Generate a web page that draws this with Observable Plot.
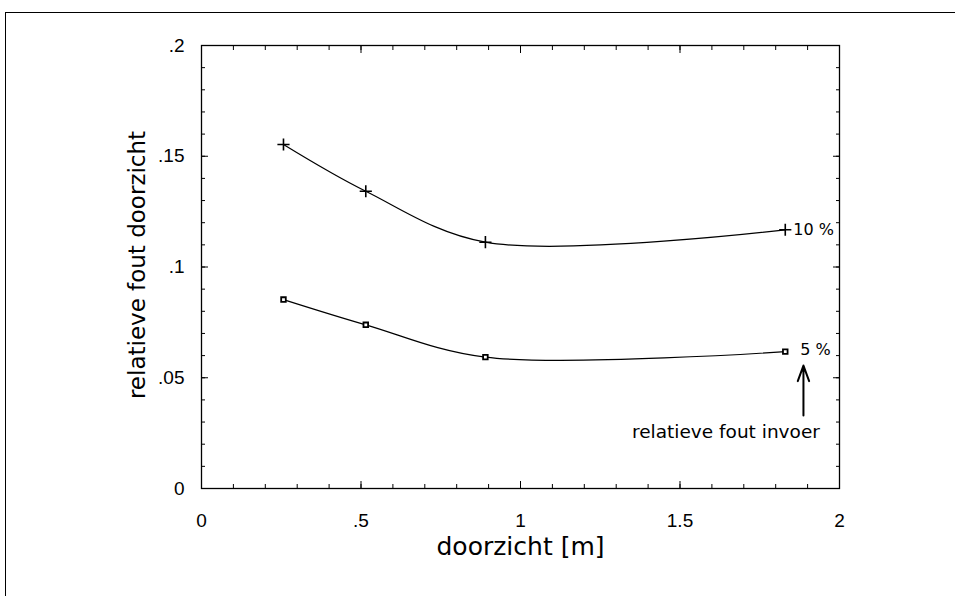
<!DOCTYPE html>
<html>
<head>
<meta charset="utf-8">
<script src="https://cdn.jsdelivr.net/npm/d3@7"></script>
<script src="https://cdn.jsdelivr.net/npm/@observablehq/plot@0.6"></script>
<style>
  html, body { margin: 0; padding: 0; background: #fff; }
  #wrap { position: relative; width: 955px; height: 596px; overflow: hidden; }
  #border { position: absolute; left: 5px; top: 12px; right: 0; bottom: 0;
            border-top: 1px solid #000; border-left: 1.5px solid #000; }
  #chart { position: absolute; left: 0; top: 0; }
</style>
</head>
<body>
<div id="wrap"><div id="border"></div><div id="chart"></div></div>
<script>
// ---- data ----
const doorzicht = [0.257, 0.515, 0.89, 1.83];          // x, m
const fout10 = [0.1553, 0.1342, 0.1112, 0.1168];       // 10 % input error
const fout5  = [0.0853, 0.0739, 0.0593, 0.0618];       // 5 % input error
const seriesLabels = ["10 %", "5 %"];

const xMajorTicks = [0, 0.5, 1, 1.5, 2];
const xMinorTicks = d3.range(0, 21).map(i => i / 10);
const yMajorTicks = [0, 0.05, 0.1, 0.15, 0.2];
const yMinorTicks = d3.range(0, 21).map(i => i / 100);

const xLabel = "doorzicht [m]";
const yLabel = "relatieve fout doorzicht";
const annotText = "relatieve fout invoer";
const annotArrow = [{x: 1.887, y1: 0.033, y2: 0.0555}];
const annotLabel = [{x: 1.644, y: 0.0253}];

// ---- build tables ----
const s10 = doorzicht.map((x, i) => ({x, y: fout10[i]}));
const s5  = doorzicht.map((x, i) => ({x, y: fout5[i]}));
const end10 = [{x: doorzicht[3], y: fout10[3], t: seriesLabels[0]}];
const end5  = [{x: doorzicht[3], y: fout5[3],  t: seriesLabels[1]}];
const fmt = d => d === 0 ? "0" : String(d).replace(/^0\./, ".");

const tickFont = "'Liberation Sans Narrow', 'Liberation Sans', sans-serif";
const labelFont = "'DejaVu Sans', sans-serif";

const chart = Plot.plot({
  width: 955,
  height: 596,
  marginLeft: 201,
  marginRight: 116,
  marginTop: 45,
  marginBottom: 108,
  style: {fontFamily: tickFont, fontSize: "19px", background: "transparent", color: "#000"},
  x: {domain: [0, 2]},
  y: {domain: [0, 0.2]},
  marks: [
    Plot.frame({stroke: "#000", strokeWidth: 1.3}),
    // inward tick marks on all four sides
    Plot.axisX(xMinorTicks, {anchor: "bottom", tickSize: -4, tickFormat: () => "", label: null}),
    Plot.axisX(xMinorTicks, {anchor: "top", tickSize: -4, tickFormat: () => "", label: null}),
    Plot.axisX(xMajorTicks, {anchor: "bottom", tickSize: -7, tickFormat: () => "", label: null}),
    Plot.axisX(xMajorTicks, {anchor: "top", tickSize: -7, tickFormat: () => "", label: null}),
    Plot.axisY(yMinorTicks, {anchor: "left", tickSize: -4, tickFormat: () => "", label: null}),
    Plot.axisY(yMinorTicks, {anchor: "right", tickSize: -4, tickFormat: () => "", label: null}),
    Plot.axisY(yMajorTicks, {anchor: "left", tickSize: -7, tickFormat: () => "", label: null}),
    Plot.axisY(yMajorTicks, {anchor: "right", tickSize: -7, tickFormat: () => "", label: null}),
    // tick labels
    Plot.axisX(xMajorTicks, {anchor: "bottom", tickSize: 0, tickPadding: 25, tickFormat: fmt, label: null, fontSize: 19}),
    Plot.axisY(yMajorTicks, {anchor: "left", tickSize: 0, tickPadding: 17, tickFormat: fmt, label: null, fontSize: 19}),
    // axis titles
    Plot.text([xLabel], {frameAnchor: "bottom", text: d => d, dy: 58, lineAnchor: "middle", textAnchor: "middle", fontFamily: labelFont, fontSize: 25, fill: "#000"}),
    Plot.text([yLabel], {frameAnchor: "left", text: d => d, rotate: -90, dx: -64, dy: -2, textAnchor: "middle", lineAnchor: "middle", fontFamily: labelFont, fontSize: 23, fill: "#000"}),
    // curves
    Plot.line(s10, {x: "x", y: "y", curve: "catmull-rom", stroke: "#000", strokeWidth: 1.2}),
    Plot.line(s5, {x: "x", y: "y", curve: "catmull-rom", stroke: "#000", strokeWidth: 1.2}),
    Plot.dot(s10, {x: "x", y: "y", symbol: "plus", r: 4, stroke: "#000", strokeWidth: 1.6}),
    Plot.dot(s5, {x: "x", y: "y", symbol: "square", r: 2.6, stroke: "#000", fill: "#fff", strokeWidth: 1.8}),
    Plot.text(end10, {x: "x", y: "y", text: "t", dx: 8, textAnchor: "start", fontFamily: labelFont, fontSize: 16, fill: "#000"}),
    Plot.text(end5, {x: "x", y: "y", text: "t", dx: 15, dy: -2, textAnchor: "start", fontFamily: labelFont, fontSize: 16, fill: "#000"}),
    // annotation
    Plot.arrow(annotArrow, {x: "x", y1: "y1", y2: "y2", stroke: "#000", strokeWidth: 2, headLength: 14, headAngle: 40}),
    Plot.text(annotLabel, {x: "x", y: "y", text: () => annotText, fontFamily: labelFont, fontSize: 18.5, fill: "#000"})
  ]
});
document.getElementById("chart").appendChild(chart);
</script>
</body>
</html>
